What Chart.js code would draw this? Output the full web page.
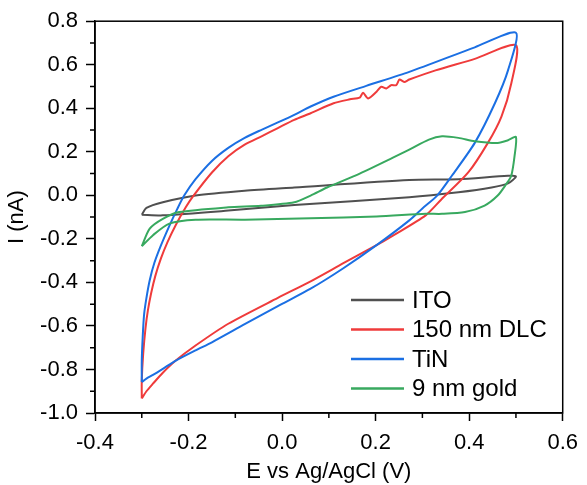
<!DOCTYPE html>
<html>
<head>
<meta charset="utf-8">
<title>Cyclic voltammetry</title>
<script src="https://cdn.jsdelivr.net/npm/chart.js@4.4.0/dist/chart.umd.min.js"></script>
<style>
  html, body { margin: 0; padding: 0; background: #fff; }
  canvas { display: block; }
</style>
</head>
<body>
<canvas id="cv" width="587" height="485"></canvas>
<script>
// Each loop starts at the -0.3 V vertex, runs the lower branch out to +0.5 V
// and comes back along the upper branch. E in V vs Ag/AgCl, I in nA.
const itoE = [-0.300, -0.255, -0.115, 0.026, 0.272, 0.377, 0.448, 0.483, 0.500,
              0.483, 0.377, 0.272, 0.026, -0.080, -0.185, -0.255, -0.290, -0.300];
const itoI = [-0.089, -0.092, -0.070, -0.044, -0.009, 0.014, 0.036, 0.055, 0.087,
              0.090, 0.074, 0.070, 0.036, 0.021, -0.001, -0.032, -0.058, -0.089];

const dlcE = [-0.300, -0.290, -0.276, -0.255, -0.228, -0.185, -0.115, -0.009, 0.061, 0.131, 0.202, 0.237,
              0.307, 0.340, 0.398, 0.440, 0.469, 0.490, 0.500,
              0.412, 0.328, 0.272, 0.261, 0.251, 0.244, 0.233, 0.223, 0.212, 0.202, 0.184, 0.173,
              0.166, 0.145, 0.110, 0.061, 0.026, -0.009, -0.044, -0.080, -0.115, -0.150, -0.192,
              -0.206, -0.227, -0.245, -0.259, -0.271, -0.280, -0.287, -0.292, -0.297, -0.300, -0.300];
const dlcI = [-0.933, -0.900, -0.865, -0.815, -0.760, -0.690, -0.590, -0.471, -0.395, -0.312, -0.229, -0.185,
              -0.092, -0.020, 0.105, 0.241, 0.362, 0.514, 0.690,
              0.627, 0.574, 0.532, 0.521, 0.532, 0.506, 0.506, 0.491, 0.499, 0.476, 0.445, 0.471,
              0.449, 0.441, 0.423, 0.377, 0.347, 0.309, 0.271, 0.233, 0.180, 0.105, -0.009,
              -0.055, -0.135, -0.215, -0.290, -0.370, -0.450, -0.530, -0.610, -0.729, -0.850, -0.933];

const tinE = [-0.300, -0.290, -0.276, -0.255, -0.228, -0.185, -0.150, -0.080, -0.009, 0.061, 0.131, 0.202,
              0.272, 0.300, 0.332, 0.363, 0.412, 0.455, 0.483, 0.500,
              0.412, 0.272, 0.180, 0.110, 0.061, 0.026, -0.009, -0.044, -0.080, -0.115, -0.150, -0.185,
              -0.209, -0.224, -0.241, -0.259, -0.273, -0.283, -0.290, -0.295, -0.298, -0.300, -0.300];
const tinI = [-0.858, -0.842, -0.825, -0.797, -0.760, -0.712, -0.675, -0.592, -0.509, -0.429, -0.335, -0.229,
              -0.115, -0.060, 0.000, 0.090, 0.241, 0.423, 0.574, 0.747,
              0.680, 0.567, 0.503, 0.453, 0.408, 0.370, 0.335, 0.301, 0.264, 0.218, 0.158, 0.074,
              0.000, -0.062, -0.140, -0.230, -0.310, -0.390, -0.471, -0.547, -0.650, -0.760, -0.858];

const goldE = [-0.300, -0.276, -0.241, -0.185, -0.080, 0.061, 0.202, 0.307, 0.342, 0.391, 0.433, 0.461,
               0.479, 0.490, 0.497, 0.500,
               0.483, 0.461, 0.412, 0.377, 0.342, 0.314, 0.272, 0.237, 0.166, 0.096, 0.061, 0.026,
               -0.045, -0.115, -0.220, -0.255, -0.283, -0.300];
const goldI = [-0.234, -0.183, -0.130, -0.112, -0.112, -0.105, -0.097, -0.085, -0.085, -0.077, -0.047, -0.001,
               0.051, 0.090, 0.180, 0.268,
               0.253, 0.241, 0.249, 0.264, 0.271, 0.256, 0.210, 0.173, 0.100, 0.036, -0.001, -0.032,
               -0.048, -0.055, -0.077, -0.108, -0.153, -0.234];

const seriesLabels = ['ITO', '150 nm DLC', 'TiN', '9 nm gold'];
const seriesColors = ['#505050', '#ef3b3b', '#1b6fe3', '#38a95f'];

// Axis ticks
const xTickValues = [-0.4, -0.2, 0.0, 0.2, 0.4, 0.6];
const xMinorTicks = [-0.3, -0.1, 0.1, 0.3, 0.5];
const yTickValues = [-1.0, -0.8, -0.6, -0.4, -0.2, 0.0, 0.2, 0.4, 0.6, 0.8];
const yMinorTicks = [-0.9, -0.7, -0.5, -0.3, -0.1, 0.1, 0.3, 0.5, 0.7];

const FONT = '"Liberation Sans", Arial, sans-serif';

const toPoints = (E, I) => E.map((e, k) => ({ x: e, y: I[k] }));
const loops = [[itoE, itoI], [dlcE, dlcI], [tinE, tinI], [goldE, goldI]];

const fmt = v => (Math.abs(v) < 1e-9 ? '0.0' : v.toFixed(1));

// Box around the plot plus the short unlabelled ticks
const framePlugin = {
    id: 'frame',
    afterDraw(chart) {
        const { ctx, chartArea: a, scales } = chart;
        ctx.save();
        ctx.strokeStyle = '#000';
        ctx.lineWidth = 1.5;
        ctx.strokeRect(a.left, a.top, a.right - a.left, a.bottom - a.top);
        ctx.beginPath();
        xMinorTicks.forEach(v => {
            const px = scales.x.getPixelForValue(v);
            ctx.moveTo(px, a.bottom);
            ctx.lineTo(px, a.bottom + 5);
        });
        yMinorTicks.forEach(v => {
            const py = scales.y.getPixelForValue(v);
            ctx.moveTo(a.left, py);
            ctx.lineTo(a.left - 5, py);
        });
        ctx.stroke();
        ctx.restore();
    }
};

// Legend sitting inside the plot, lower right
const insetLegend = {
    id: 'insetLegend',
    afterDraw(chart) {
        const ctx = chart.ctx;
        ctx.save();
        ctx.font = '24px ' + FONT;
        ctx.textBaseline = 'middle';
        ctx.fillStyle = '#000';
        chart.data.datasets.forEach((ds, k) => {
            const y = 300 + k * 29.5;
            ctx.strokeStyle = ds.borderColor;
            ctx.lineWidth = 2.5;
            ctx.beginPath();
            ctx.moveTo(351, y);
            ctx.lineTo(404, y);
            ctx.stroke();
            ctx.fillText(ds.label, 412, y + 1);
        });
        ctx.restore();
    }
};

new Chart(document.getElementById('cv'), {
    type: 'scatter',
    data: {
        datasets: loops.map(([E, I], k) => ({
            label: seriesLabels[k],
            data: toPoints(E, I),
            showLine: true,
            borderColor: seriesColors[k],
            backgroundColor: seriesColors[k],
            borderWidth: 2,
            pointRadius: 0,
            tension: 0.25,
            fill: false,
            order: loops.length - k
        }))
    },
    options: {
        responsive: false,
        animation: false,
        devicePixelRatio: 1,
        layout: { padding: { left: 0, right: 18, top: 17, bottom: 0 } },
        plugins: {
            legend: { display: false },
            tooltip: { enabled: false }
        },
        scales: {
            x: {
                type: 'linear',
                min: -0.4,
                max: 0.6,
                afterBuildTicks: scale => { scale.ticks = xTickValues.map(v => ({ value: v })); },
                afterFit: scale => { scale.height = 72; },
                border: { display: true, color: '#000', width: 1.5 },
                grid: { drawOnChartArea: false, tickLength: 8, tickColor: '#000', tickWidth: 1.5 },
                ticks: {
                    color: '#000',
                    padding: 9,
                    maxRotation: 0,
                    font: { family: FONT, size: 22 },
                    callback: fmt
                },
                title: {
                    display: true,
                    text: 'E vs Ag/AgCl (V)',
                    color: '#000',
                    padding: { top: 0, bottom: 0 },
                    font: { family: FONT, size: 22 }
                }
            },
            y: {
                type: 'linear',
                min: -1.0,
                max: 0.8,
                afterBuildTicks: scale => { scale.ticks = yTickValues.map(v => ({ value: v })); },
                afterFit: scale => { scale.width = 95; },
                border: { display: true, color: '#000', width: 1.5 },
                grid: { drawOnChartArea: false, tickLength: 9, tickColor: '#000', tickWidth: 1.5 },
                ticks: {
                    color: '#000',
                    padding: 8,
                    font: { family: FONT, size: 22 },
                    callback: fmt
                },
                title: {
                    display: true,
                    text: 'I (nA)',
                    color: '#000',
                    padding: { top: 4, bottom: 0 },
                    font: { family: FONT, size: 22 }
                }
            }
        }
    },
    plugins: [framePlugin, insetLegend]
});
</script>
</body>
</html>
